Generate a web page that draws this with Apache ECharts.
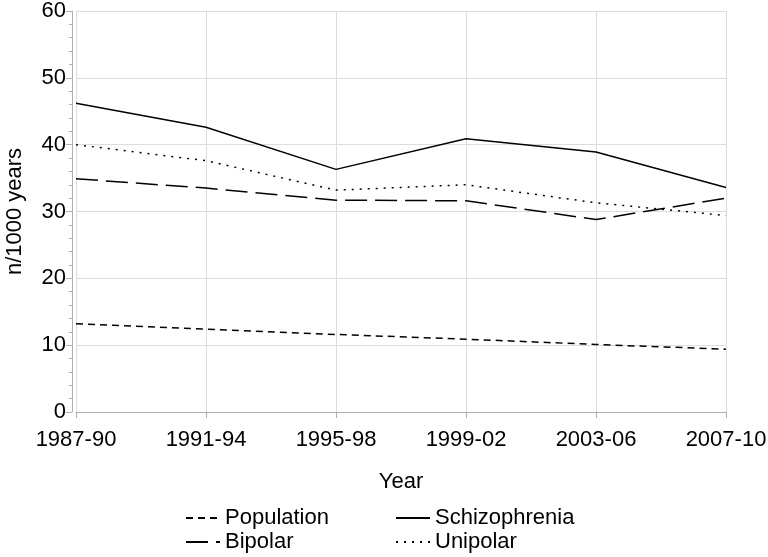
<!DOCTYPE html>
<html>
<head>
<meta charset="utf-8">
<script src="https://cdn.jsdelivr.net/npm/echarts@6/dist/echarts.min.js"></script>
<style>
  html, body { margin: 0; padding: 0; background: #fff; }
  #main { width: 768px; height: 557px; }
</style>
</head>
<body>
<div id="main"></div>
<script>
var periods = ['1987-90', '1991-94', '1995-98', '1999-02', '2003-06', '2007-10'];
var population = [13.2, 12.4, 11.6, 10.9, 10.1, 9.4];
var schizophrenia = [46.2, 42.6, 36.3, 40.9, 38.9, 33.6];
var bipolar = [34.9, 33.5, 31.7, 31.6, 28.8, 32.0];
var unipolar = [40.0, 37.6, 33.2, 34.0, 31.3, 29.4];

var font = 'Liberation Sans, Arial, sans-serif';

function mkSeries(name, data, dash) {
    return {
        name: name,
        type: 'line',
        data: data,
        symbol: 'none',
        lineStyle: { color: '#000', width: 1.5, type: dash },
        itemStyle: { color: '#000' }
    };
}

function mkLegend(names, left) {
    return {
        data: names,
        orient: 'vertical',
        left: left, top: 507,
        padding: 0,
        itemWidth: 34, itemHeight: 12, itemGap: 2,
        itemStyle: { opacity: 0 },
        textStyle: { fontSize: 22, lineHeight: 20, color: '#000', fontFamily: font }
    };
}

var chart = echarts.init(document.getElementById('main'));
var option = {
    animation: false,
    backgroundColor: '#fff',
    textStyle: { fontFamily: font },
    grid: { left: 76, right: 42, top: 11, bottom: 145, outerBoundsMode: 'none', containLabel: false },
    legend: [
        mkLegend(['Population', 'Bipolar'], 185),
        mkLegend(['Schizophrenia', 'Unipolar'], 395)
    ],
    xAxis: {
        type: 'category',
        data: periods,
        boundaryGap: false,
        offset: 4,
        name: 'Year',
        nameLocation: 'middle',
        nameGap: 55,
        nameTextStyle: { fontSize: 22, color: '#000' },
        axisLine: { lineStyle: { color: '#b0b0b0' } },
        axisTick: { alignWithLabel: true, length: 6, lineStyle: { color: '#b0b0b0' } },
        axisLabel: { fontSize: 22, color: '#000', margin: 13 },
        splitLine: { show: true, lineStyle: { color: '#dcdcdc' } }
    },
    yAxis: {
        type: 'value',
        min: 0, max: 60, interval: 10,
        offset: 4,
        name: 'n/1000 years',
        nameLocation: 'middle',
        nameGap: 46,
        nameTextStyle: { fontSize: 22, color: '#000' },
        axisLine: { show: true, lineStyle: { color: '#b0b0b0' } },
        axisTick: { show: true, length: 6, lineStyle: { color: '#b0b0b0' } },
        minorTick: { show: true, splitNumber: 5, length: 3, lineStyle: { color: '#b0b0b0' } },
        axisLabel: { fontSize: 22, color: '#000', margin: 6 },
        splitLine: { show: true, lineStyle: { color: '#dcdcdc' } }
    },
    series: [
        mkSeries('Population', population, [7, 5]),
        mkSeries('Schizophrenia', schizophrenia, 'solid'),
        mkSeries('Bipolar', bipolar, [22, 8]),
        mkSeries('Unipolar', unipolar, [2, 6])
    ]
};
chart.setOption(option);
</script>
</body>
</html>
